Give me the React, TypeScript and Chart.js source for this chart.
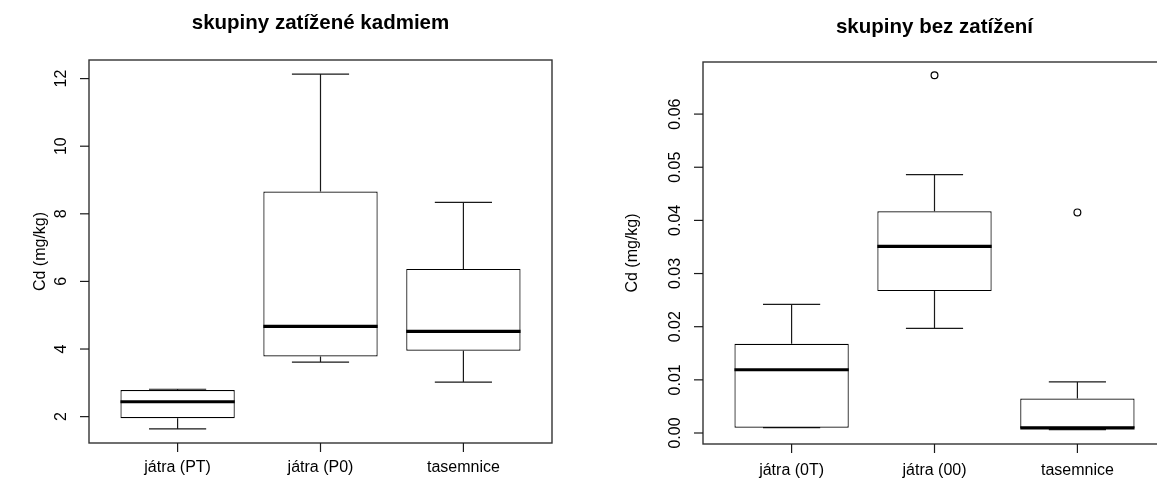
import React, { useEffect, useRef } from 'react';
import { Chart, registerables } from 'chart.js';

Chart.register(...registerables);

// ---------- Left panel data: skupiny zatížené kadmiem ----------
const leftTitle = 'skupiny zatížené kadmiem';
const leftCategories = ['játra (PT)', 'játra (P0)', 'tasemnice'];
const leftWhiskerLow = [1.64, 3.61, 3.02];
const leftQ1 = [1.95, 3.78, 3.95];
const leftMedian = [2.44, 4.67, 4.52];
const leftQ3 = [2.79, 8.66, 6.37];
const leftWhiskerHigh = [2.81, 12.13, 8.34];
const leftOutliers: { cat: number; value: number }[] = [];
const leftYTicks = [2, 4, 6, 8, 10, 12];
const leftYTickLabels = ['2', '4', '6', '8', '10', '12'];
const leftYMin = 1.22;
const leftYMax = 12.55;

// ---------- Right panel data: skupiny bez zatížení ----------
const rightTitle = 'skupiny bez zatížení';
const rightCategories = ['játra (0T)', 'játra (00)', 'tasemnice'];
const rightWhiskerLow = [0.001, 0.0197, 0.00065];
const rightQ1 = [0.001, 0.0267, 0.00095];
const rightMedian = [0.0119, 0.0351, 0.00095];
const rightQ3 = [0.0168, 0.0417, 0.0065];
const rightWhiskerHigh = [0.0242, 0.0486, 0.0096];
const rightOutliers = [
  { cat: 2, value: 0.0673 },
  { cat: 3, value: 0.0415 },
];
const rightYTicks = [0, 0.01, 0.02, 0.03, 0.04, 0.05, 0.06];
const rightYTickLabels = ['0.00', '0.01', '0.02', '0.03', '0.04', '0.05', '0.06'];
const rightYMin = -0.00207;
const rightYMax = 0.0698;

const yAxisTitle = 'Cd (mg/kg)';
const xPositions = [1, 2, 3];

const FONT = "'Liberation Sans', Arial, sans-serif";

const rBoxPlugin = {
  id: 'rbox',
  beforeDatasetsDraw(chart: any, _args: any, o: any) {
    const xs = chart.scales.x;
    const ys = chart.scales.y;
    const ctx = chart.ctx as CanvasRenderingContext2D;
    ctx.save();
    ctx.strokeStyle = '#1a1a1a';
    ctx.lineWidth = 1.2;
    o.low.forEach((lo: number, i: number) => {
      const cx = xs.getPixelForValue(xPositions[i]);
      const capL = xs.getPixelForValue(xPositions[i] - 0.2);
      const capR = xs.getPixelForValue(xPositions[i] + 0.2);
      const yLo = ys.getPixelForValue(lo);
      const yHi = ys.getPixelForValue(o.high[i]);
      const yQ1 = ys.getPixelForValue(o.q1[i]);
      const yQ3 = ys.getPixelForValue(o.q3[i]);
      ctx.beginPath();
      ctx.moveTo(cx, yQ3);
      ctx.lineTo(cx, yHi);
      ctx.moveTo(cx, yQ1);
      ctx.lineTo(cx, yLo);
      ctx.moveTo(capL, yHi);
      ctx.lineTo(capR, yHi);
      ctx.moveTo(capL, yLo);
      ctx.lineTo(capR, yLo);
      ctx.stroke();
    });
    ctx.restore();
  },
  afterDatasetsDraw(chart: any, _args: any, o: any) {
    const xs = chart.scales.x;
    const ys = chart.scales.y;
    const ctx = chart.ctx as CanvasRenderingContext2D;
    const a = chart.chartArea;
    ctx.save();
    // medians
    ctx.strokeStyle = '#000';
    ctx.lineWidth = 3.2;
    o.median.forEach((m: number, i: number) => {
      const l = xs.getPixelForValue(xPositions[i] - 0.4);
      const r = xs.getPixelForValue(xPositions[i] + 0.4);
      const y = ys.getPixelForValue(m);
      ctx.beginPath();
      ctx.moveTo(l, y);
      ctx.lineTo(r, y);
      ctx.stroke();
    });
    // frame
    ctx.strokeStyle = '#333';
    ctx.lineWidth = 1.4;
    ctx.strokeRect(a.left, a.top, a.right - a.left, a.bottom - a.top);
    // y axis ticks + labels
    ctx.fillStyle = '#000';
    ctx.font = `16px ${FONT}`;
    ctx.textAlign = 'center';
    ctx.textBaseline = 'middle';
    ctx.lineWidth = 1.2;
    ctx.strokeStyle = '#1a1a1a';
    ys.ticks.forEach((t: any, i: number) => {
      const y = ys.getPixelForValue(t.value);
      ctx.beginPath();
      ctx.moveTo(a.left, y);
      ctx.lineTo(a.left - 9, y);
      ctx.stroke();
      ctx.save();
      ctx.translate(a.left - 27.5, y);
      ctx.rotate(-Math.PI / 2);
      ctx.fillText(o.yLabels[i], 0, 0);
      ctx.restore();
    });
    // x axis ticks + labels
    xs.ticks.forEach((t: any, i: number) => {
      const x = xs.getPixelForValue(t.value);
      ctx.beginPath();
      ctx.moveTo(x, a.bottom);
      ctx.lineTo(x, a.bottom + 9);
      ctx.stroke();
      ctx.fillText(o.categories[i], x, a.bottom + o.xLabelGap);
    });
    // y axis title
    ctx.save();
    ctx.translate(o.ylabX, (a.top + a.bottom) / 2);
    ctx.rotate(-Math.PI / 2);
    ctx.fillText(o.ylab, 0, 0);
    ctx.restore();
    // main title
    ctx.font = `bold 20.5px ${FONT}`;
    ctx.fillText(o.title, (a.left + a.right) / 2, a.top - o.titleGap);
    ctx.restore();
  },
};

type PanelProps = {
  title: string;
  categories: string[];
  low: number[];
  q1: number[];
  median: number[];
  q3: number[];
  high: number[];
  outliers: { cat: number; value: number }[];
  yTicks: number[];
  yLabels: string[];
  yMin: number;
  yMax: number;
  left: number;
  width: number;
  padding: { left: number; right: number; top: number; bottom: number };
  ylabX: number;
  xLabelGap: number;
  titleGap: number;
};

function Panel(p: PanelProps) {
  const ref = useRef<HTMLCanvasElement | null>(null);
  useEffect(() => {
    if (!ref.current) return;
    const chart = new Chart(ref.current, {
      type: 'bar',
      data: {
        datasets: [
          {
            type: 'bar',
            data: xPositions.map((x, i) => ({ x, y: [p.q1[i], p.q3[i]] })) as any,
            backgroundColor: '#ffffff',
            borderColor: '#000000',
            borderWidth: 1.2,
            borderSkipped: false,
            categoryPercentage: 1,
            barPercentage: 0.8,
          } as any,
          {
            type: 'scatter',
            data: p.outliers.map((o) => ({ x: o.cat, y: o.value })),
            pointStyle: 'circle',
            pointRadius: 3.4,
            borderColor: '#000000',
            backgroundColor: 'rgba(0,0,0,0)',
            borderWidth: 1.2,
          } as any,
        ],
      },
      options: {
        responsive: false,
        animation: false,
        devicePixelRatio: 1,
        events: [],
        layout: { padding: p.padding },
        scales: {
          x: {
            type: 'linear',
            min: 0.38,
            max: 3.62,
            offset: false,
            display: false,
            afterBuildTicks: (s: any) => {
              s.ticks = xPositions.map((v) => ({ value: v }));
            },
          },
          y: {
            type: 'linear',
            min: p.yMin,
            max: p.yMax,
            display: false,
            afterBuildTicks: (s: any) => {
              s.ticks = p.yTicks.map((v) => ({ value: v }));
            },
          },
        },
        plugins: {
          legend: { display: false },
          tooltip: { enabled: false },
          title: { display: false },
          rbox: {
            title: p.title,
            categories: p.categories,
            low: p.low,
            q1: p.q1,
            median: p.median,
            q3: p.q3,
            high: p.high,
            yLabels: p.yLabels,
            ylab: yAxisTitle,
            ylabX: p.ylabX,
            xLabelGap: p.xLabelGap,
            titleGap: p.titleGap,
          },
        } as any,
      },
      plugins: [rBoxPlugin],
    });
    return () => chart.destroy();
  }, []);
  return (
    <canvas
      ref={ref}
      width={p.width}
      height={482}
      style={{ position: 'absolute', left: p.left, top: 0, width: p.width, height: 482 }}
    />
  );
}

export default function App() {
  return (
    <div
      style={{
        position: 'fixed',
        left: 0,
        top: 0,
        width: 1157,
        height: 482,
        overflow: 'hidden',
        background: '#ffffff',
      }}
    >
      <Panel
        title={leftTitle}
        categories={leftCategories}
        low={leftWhiskerLow}
        q1={leftQ1}
        median={leftMedian}
        q3={leftQ3}
        high={leftWhiskerHigh}
        outliers={leftOutliers}
        yTicks={leftYTicks}
        yLabels={leftYTickLabels}
        yMin={leftYMin}
        yMax={leftYMax}
        left={0}
        width={578}
        padding={{ left: 89, right: 26, top: 60, bottom: 39 }}
        ylabX={41}
        xLabelGap={25}
        titleGap={37}
      />
      <Panel
        title={rightTitle}
        categories={rightCategories}
        low={rightWhiskerLow}
        q1={rightQ1}
        median={rightMedian}
        q3={rightQ3}
        high={rightWhiskerHigh}
        outliers={rightOutliers}
        yTicks={rightYTicks}
        yLabels={rightYTickLabels}
        yMin={rightYMin}
        yMax={rightYMax}
        left={578}
        width={600}
        padding={{ left: 125, right: 12, top: 62, bottom: 38 }}
        ylabX={55}
        xLabelGap={27}
        titleGap={35}
      />
    </div>
  );
}
